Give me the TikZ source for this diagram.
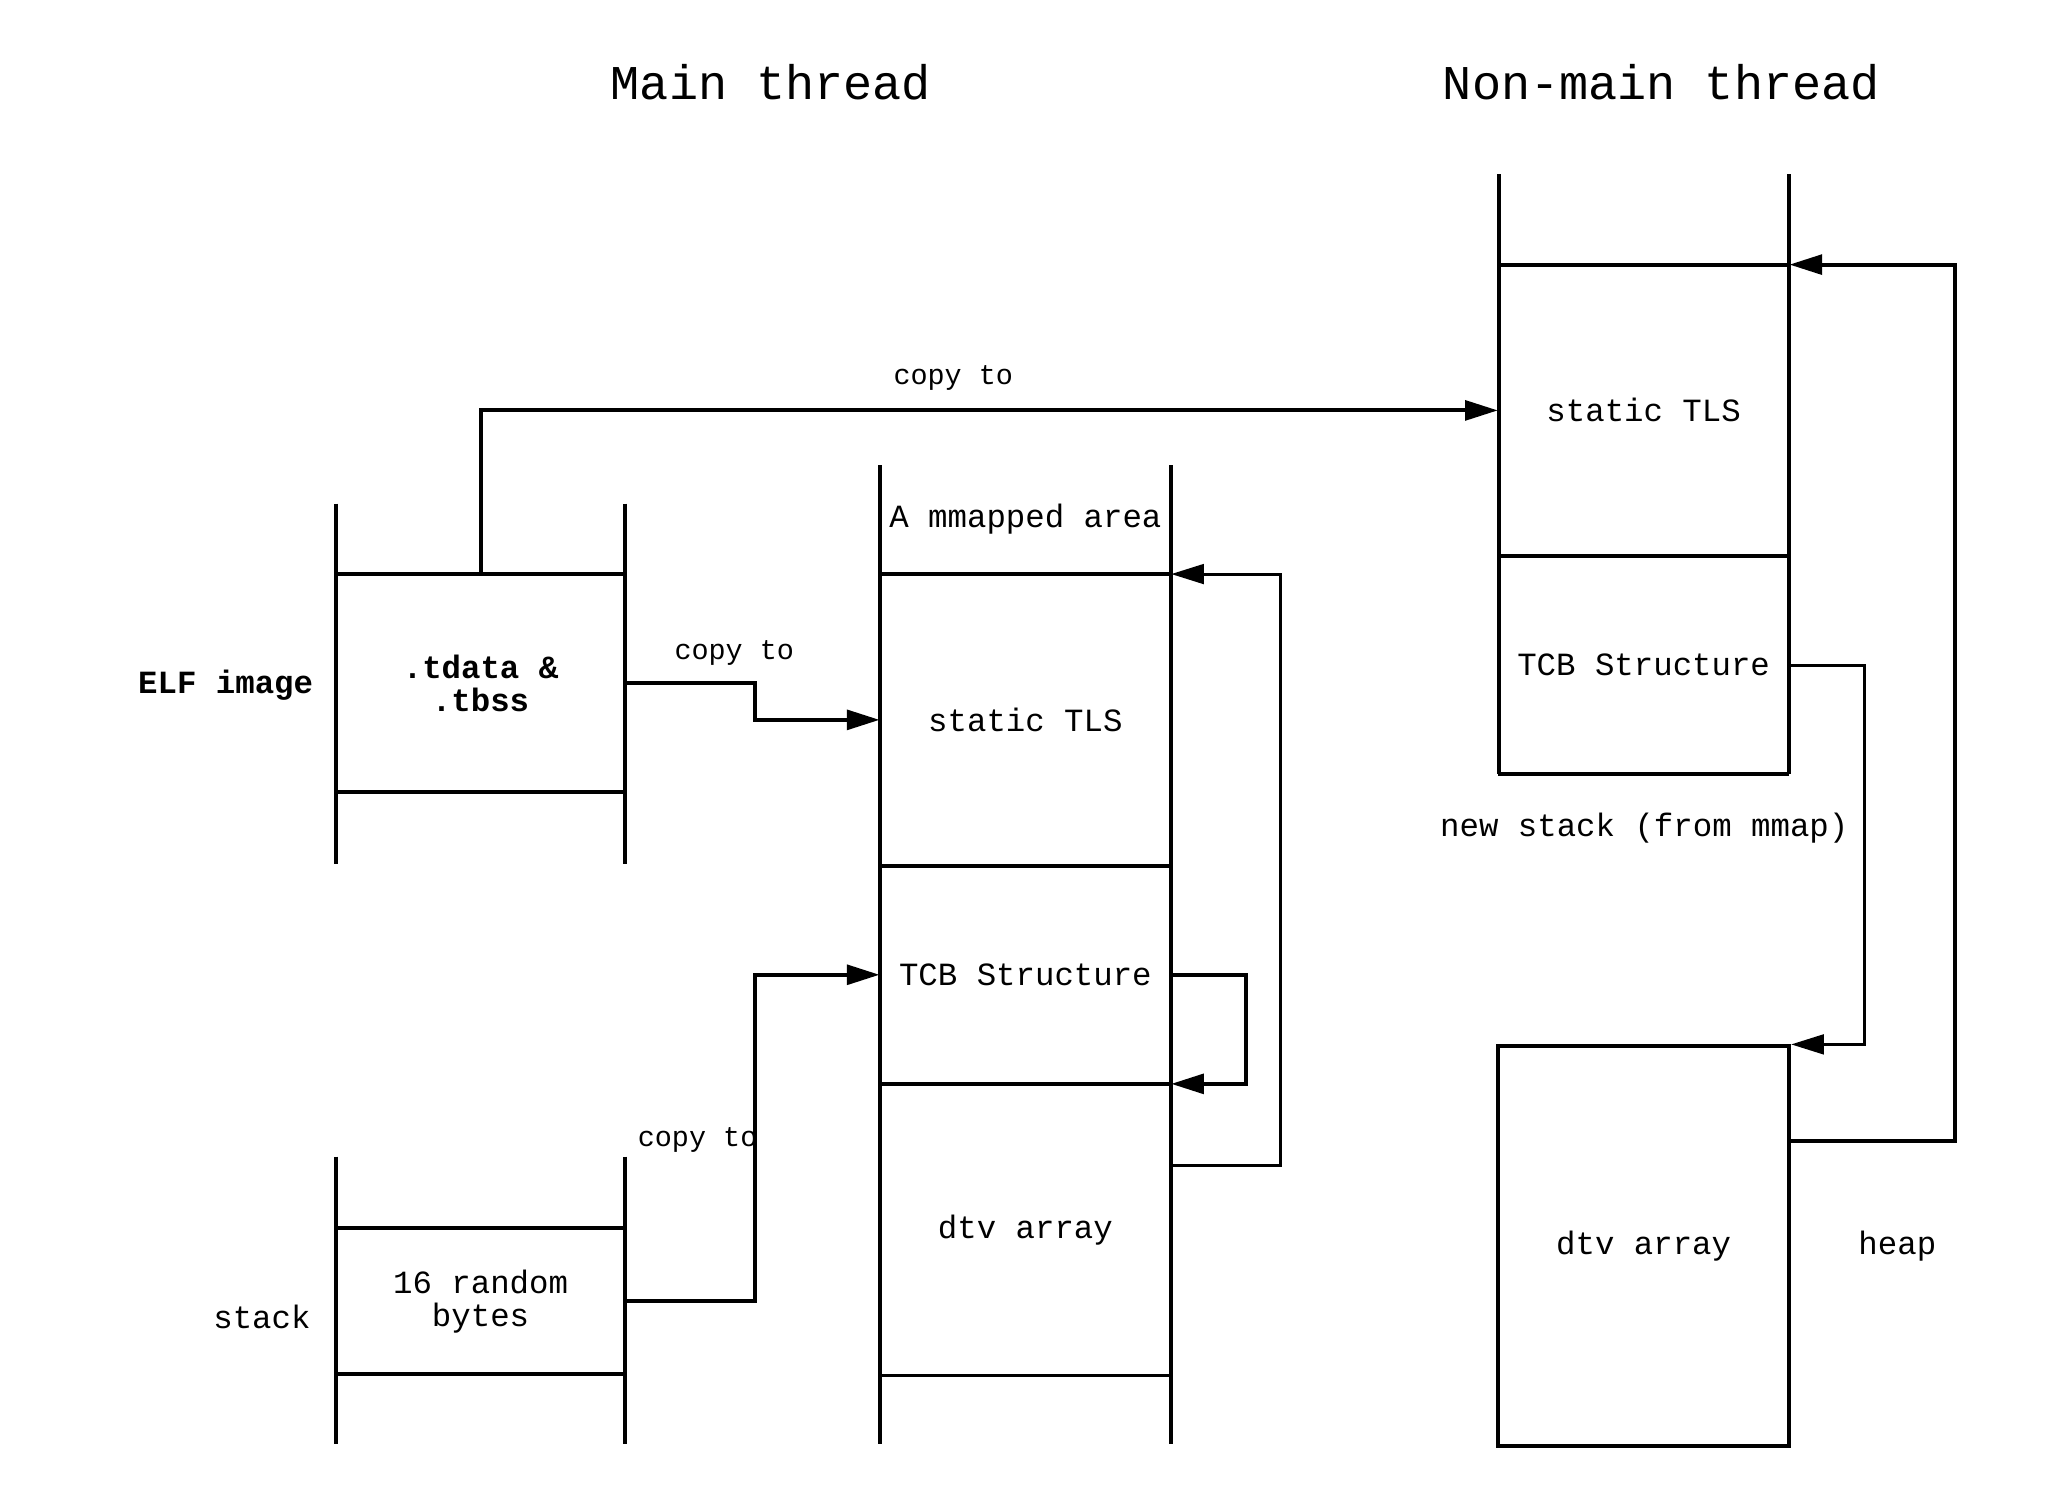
\documentclass[tikz,border=0pt]{standalone}
\usepackage{fontspec}
\setmonofont{Liberation Mono}
\usetikzlibrary{arrows.meta,positioning,calc}

\tikzset{
	cell/.style={inner sep=0pt, minimum width=222pt, align=center, font=\ttfamily\fontsize{24.7}{25}\selectfont},
	boldcell/.style={cell, font=\ttfamily\bfseries\fontsize{24.7}{25}\selectfont},
	lbl/.style={inner sep=0pt, font=\ttfamily\fontsize{24.7}{25}\selectfont},
	copylbl/.style={inner sep=0pt, anchor=base, font=\ttfamily\fontsize{21.7}{24}\selectfont},
	threadtitle/.style={inner sep=0pt, font=\ttfamily\fontsize{37}{40}\selectfont},
	wall/.style={line width=3pt},
	conn/.style={line width=3.1pt, -{Triangle[length=25pt,width=15pt]}},
	thinconn/.style={conn, line width=2.3pt},
}

\begin{document}
\begin{tikzpicture}[x=1pt,y=-1pt]
		\useasboundingbox (0,0) rectangle (1568,1145.5);
		
		% titles
		\node[threadtitle] (main) at (588,63) {Main thread};
		\node[threadtitle] (nonmain) at (1267,63) {Non-main thread};
		
		% ELF image
		\node[boldcell, minimum height=166pt] (elf) at (366.5,521) {.tdata \&\\.tbss};
		\node[lbl, font=\ttfamily\bfseries\fontsize{24.7}{25}\selectfont, anchor=base east] (elflbl) at (239,529) {ELF image};
		\draw[wall] (256,384) -- (256,659);
		\draw[wall] (477,384) -- (477,659);
		\draw[wall] (elf.north west) -- (elf.north east);
		\draw[wall] (elf.south west) -- (elf.south east);
		
		% stack
		\node[cell, minimum height=111pt] (rnd) at (366.5,992.5) {16 random\\bytes};
		\node[lbl, anchor=base east] (stacklbl) at (237,1013) {stack};
		\draw[wall] (256,882) -- (256,1101);
		\draw[wall] (477,882) -- (477,1101);
		\draw[wall] (rnd.north west) -- (rnd.north east);
		\draw[wall] (rnd.south west) -- (rnd.south east);
		
		% main thread: mmapped area
		\node[cell, minimum height=222pt] (tls1) at (782,549) {static TLS};
		\node[cell, minimum height=83pt, above=0pt of tls1] (mmap) {A mmapped area};
		\node[cell, minimum height=166pt, below=0pt of tls1] (tcb1) {TCB Structure};
		\node[cell, minimum height=222pt, below=0pt of tcb1] (dtv1) {dtv array};
		\draw[wall] (671,355) -- (671,1101);
		\draw[wall] (893,355) -- (893,1101);
		\draw[wall] (mmap.south west) -- (mmap.south east);
		\draw[wall] (tls1.south west) -- (tls1.south east);
		\draw[wall] (tcb1.south west) -- (tcb1.south east);
		\draw[wall] (dtv1.south west) -- (dtv1.south east);
		
		% non-main thread: new stack
		\node[cell, minimum height=222pt] (tls2) at (1253.5,313) {static TLS};
		\node[cell, minimum height=166pt, below=0pt of tls2] (tcb2) {TCB Structure};
		\draw[wall] (1143,133) -- (1143,590);
		\draw[wall] (1364,133) -- (1364,590);
		\draw[wall] (tls2.north west) -- (tls2.north east);
		\draw[wall] (tls2.south west) -- (tls2.south east);
		\draw[wall] (tcb2.south west) -- (tcb2.south east);
		\node[lbl, anchor=base] (newstack) at (1254,638) {new stack (from mmap)};
		
		% heap
		\node[cell, draw, wall, minimum height=305pt] (dtv2) at (1253.5,950.5) {dtv array};
		\node[lbl, anchor=base] (heap) at (1447,957) {heap};
		
		% copies
		\draw[conn] (elf.north) |- (tls2.west);
		\node[copylbl] (copytop) at (727,293) {copy to};
		
		\draw[conn] (elf.east) -- ++(98,0) |- (tls1.west);
		\node[copylbl] (copymid) at (560,503) {copy to};
		
		\draw[conn] (rnd.east) -- ++(98,0) |- (tcb1.west);
		\node[copylbl] (copylow) at (532,874) {copy to};
		
		% pointers
		\draw[conn] (tcb1.east) -- ++(57,0) |- (tcb1.south east);
		\draw[thinconn] ($(dtv1.east)+(0,-49)$) -- ++(83,0) |- (mmap.south east);
		
		\draw[thinconn] (tcb2.east) -- ++(57,0) |- (dtv2.north east);
		\draw[conn] ($(dtv2.east)+(0,-80)$) -- ++(125,0) |- (tls2.north east);
		
\end{tikzpicture}
\end{document}
